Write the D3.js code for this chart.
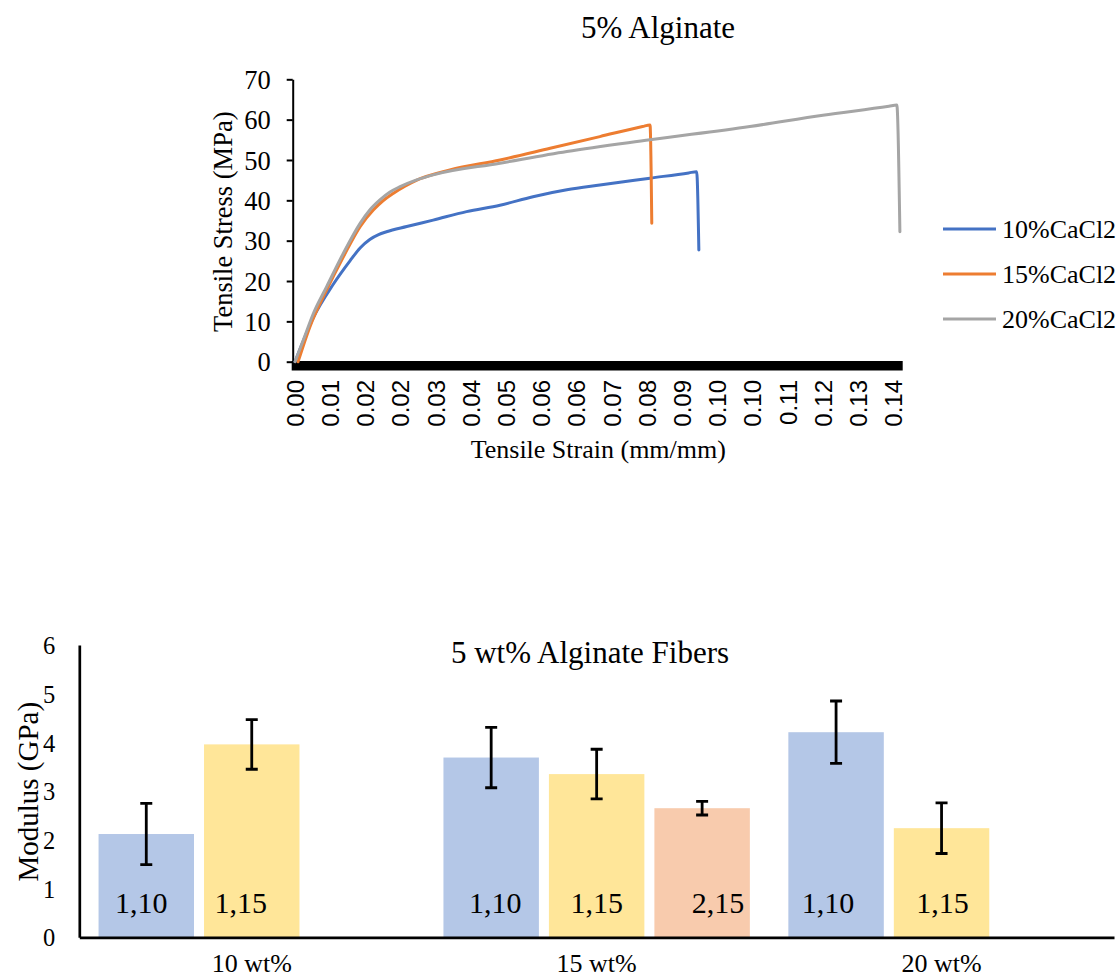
<!DOCTYPE html>
<html>
<head>
<meta charset="utf-8">
<script src="https://cdn.jsdelivr.net/npm/d3@7/dist/d3.min.js"></script>
<style>
body { margin: 0; background: #fff; }
svg { display: block; }
text { font-family: "Liberation Serif", "Times New Roman", serif; fill: #000; }
.xlab text { font-family: "Liberation Sans", Arial, sans-serif; }
</style>
</head>
<body>
<svg width="1119" height="980"></svg>
<script>
// ---- top chart data: [strain (mm/mm), stress (MPa)]
const curve10 = [[0, 0], [0.0042, 11], [0.0087, 19.2], [0.0125, 25], [0.0148, 28.2], [0.0170, 30.3],
  [0.0190, 31.5], [0.0208, 32.2], [0.0254, 33.5], [0.0314, 35.1], [0.0390, 37.2], [0.0466, 38.8],
  [0.0541, 40.9], [0.0618, 42.6], [0.0693, 43.8], [0.0807, 45.5], [0.0895, 46.8], [0.0913, 47.1],
  [0.0918, 27.7]]
const curve15 = [[0.0007, 0], [0.0034, 8.7], [0.0072, 17.8], [0.0110, 26], [0.0148, 33.5], [0.0178, 37.6],
  [0.0200, 39.9], [0.0223, 41.7], [0.0250, 43.5], [0.0277, 45], [0.0352, 47.5], [0.0466, 50],
  [0.0580, 52.9], [0.0693, 55.8], [0.0790, 58.3], [0.0807, 58.7], [0.0811, 34.3]]
const curve20 = [[0, 0], [0.0019, 5.4], [0.0042, 12], [0.0072, 18.6], [0.0110, 26.9], [0.0148, 34.3],
  [0.0170, 37.6], [0.0193, 40.1], [0.0215, 42], [0.0239, 43.4], [0.0275, 45], [0.0314, 46.3],
  [0.0466, 49.2], [0.0618, 52.1], [0.0807, 55], [0.1034, 58.3], [0.1200, 61.1], [0.1350, 63.3],
  [0.1368, 63.6], [0.1375, 32.2]]
const curveNames = ["10%CaCl2", "15%CaCl2", "20%CaCl2"]
const stressTicks = [0, 10, 20, 30, 40, 50, 60, 70]
const strainTicks = [0, 0.008, 0.016, 0.024, 0.032, 0.040, 0.048, 0.056, 0.064, 0.072, 0.080,
  0.088, 0.096, 0.104, 0.112, 0.120, 0.128, 0.136]
const strainLabels = ["0.00", "0.01", "0.02", "0.02", "0.03", "0.04", "0.05", "0.06", "0.06", "0.07",
  "0.08", "0.09", "0.10", "0.10", "0.11", "0.12", "0.13", "0.14"]

// ---- bottom chart data: modulus (GPa) and error
const categories = ["10 wt%", "15 wt%", "20 wt%"]
const seriesNames = ["1,10", "1,15", "2,15"]
const mod110 = [2.12, 3.69, 4.21]
const err110 = [0.63, 0.62, 0.64]
const mod115 = [3.96, 3.35, 2.24]
const err115 = [0.51, 0.51, 0.52]
const mod215 = [null, 2.65, null]
const err215 = [null, 0.14, null]
const modTicks = [0, 1, 2, 3, 4, 5, 6]

// layout / style
const lineColors = ["#4472C4", "#ED7D31", "#A5A5A5"]
const barColors = ["#B4C7E7", "#FFE699", "#F8CBAD"]
const labelNudge = [[-5, 4, -8], [-11, 0, 1], [0, 16, 0]]

let svg = d3.select("svg")

// ================= top chart =================
let x = d3.scaleLinear().domain([0, 0.136]).range([295, 893.3])
let y = d3.scaleLinear().domain([0, 70]).range([361.7, 79.3])

svg.append("text")
  .attr("x", 658).attr("y", 38)
  .attr("text-anchor", "middle")
  .style("font-size", "31px")
  .text("5% Alginate")

let yAxis = svg.append("g")
  .attr("transform", "translate(292.7,0)")
  .call(d3.axisLeft(y).tickValues(stressTicks).tickSize(6).tickSizeOuter(0).tickPadding(16))
yAxis.selectAll("path, line").attr("stroke", "#000").attr("stroke-width", 2)
yAxis.selectAll("text").style("font-size", "26.5px").attr("dy", "0.35em")

// dense category tick marks show up as a thick black band
svg.append("rect")
  .attr("x", 291.7).attr("y", 361)
  .attr("width", 611).attr("height", 9.5)
  .attr("fill", "#000")

let xAxis = svg.append("g")
  .attr("class", "xlab")
  .attr("transform", "translate(0,361.7)")
  .call(d3.axisBottom(x).tickValues(strainTicks).tickFormat((d, i) => strainLabels[i]).tickSize(0))
xAxis.select(".domain").remove()
xAxis.selectAll("text")
  .attr("transform", "rotate(-90)")
  .attr("x", -18.3).attr("y", 0)
  .attr("dy", "0.35em")
  .style("text-anchor", "end")
  .style("font-size", "24px")

let line = d3.line().x(d => x(d[0])).y(d => y(d[1])).curve(d3.curveMonotoneX)
let curves = [curve10, curve15, curve20]
curves.forEach((c, i) => {
  svg.append("path")
    .datum(c)
    .attr("d", line)
    .attr("fill", "none")
    .attr("stroke", lineColors[i])
    .attr("stroke-width", 3)
    .attr("stroke-linejoin", "round")
    .attr("stroke-linecap", "round")
})

svg.append("text")
  .attr("transform", "translate(231.7,221.7) rotate(-90)")
  .attr("text-anchor", "middle")
  .style("font-size", "26.5px")
  .text("Tensile Stress (MPa)")

svg.append("text")
  .attr("x", 598.3).attr("y", 458)
  .attr("text-anchor", "middle")
  .style("font-size", "26px")
  .text("Tensile Strain (mm/mm)")

let legend = svg.append("g").selectAll("g")
  .data(curveNames)
  .enter().append("g")
  .attr("transform", (d, i) => "translate(0," + (229 + i * 45) + ")")
legend.append("line")
  .attr("x1", 943).attr("x2", 996)
  .attr("stroke", (d, i) => lineColors[i])
  .attr("stroke-width", 3)
legend.append("text")
  .attr("x", 1002).attr("y", 9)
  .style("font-size", "26px")
  .text(d => d)

// ================= bottom chart =================
let x0 = d3.scaleBand().domain(categories).range([79.3, 1114]).padding(0)
let x1 = d3.scaleBand().domain(seriesNames).range([0, x0.bandwidth()])
  .paddingInner(0.095).paddingOuter(0.1825)
let yb = d3.scaleLinear().domain([0, 6]).range([937.3, 645])

svg.append("text")
  .attr("x", 590).attr("y", 663)
  .attr("text-anchor", "middle")
  .style("font-size", "31px")
  .text("5 wt% Alginate Fibers")

let barSeries = [
  {name: "1,10", values: mod110, errors: err110},
  {name: "1,15", values: mod115, errors: err115},
  {name: "2,15", values: mod215, errors: err215}
]

barSeries.forEach((s, si) => {
  let pts = categories.map((c, ci) => ({cat: c, v: s.values[ci], e: s.errors[ci], ci: ci}))
    .filter(d => d.v != null)
  let g = svg.append("g")
  g.selectAll("rect")
    .data(pts)
    .enter().append("rect")
    .attr("x", d => x0(d.cat) + x1(s.name))
    .attr("y", d => yb(d.v))
    .attr("width", x1.bandwidth())
    .attr("height", d => yb(0) - yb(d.v))
    .attr("fill", barColors[si])

  let cx = d => x0(d.cat) + x1(s.name) + x1.bandwidth() / 2
  g.selectAll(".err")
    .data(pts)
    .enter().append("path")
    .attr("class", "err")
    .attr("d", d => {
      let top = yb(d.v + d.e), bot = yb(d.v - d.e), c = cx(d)
      return "M" + c + "," + top + "V" + bot +
        "M" + (c - 6) + "," + top + "H" + (c + 6) +
        "M" + (c - 6) + "," + bot + "H" + (c + 6)
    })
    .attr("stroke", "#000")
    .attr("stroke-width", 2.8)
    .attr("fill", "none")

  g.selectAll(".lab")
    .data(pts)
    .enter().append("text")
    .attr("class", "lab")
    .attr("x", d => cx(d) + labelNudge[si][d.ci])
    .attr("y", 913)
    .attr("text-anchor", "middle")
    .style("font-size", "30px")
    .text(s.name)
})

let ybAxis = svg.append("g")
  .attr("transform", "translate(79.3,0)")
  .call(d3.axisLeft(yb).tickValues(modTicks).tickFormat(d3.format("d")).tickSize(0).tickSizeOuter(0).tickPadding(24))
ybAxis.select(".domain").attr("stroke", "#000").attr("stroke-width", 2.7)
ybAxis.selectAll("text").style("font-size", "24.5px").attr("dy", "0.35em")

let xbAxis = svg.append("g")
  .attr("transform", "translate(0,937.3)")
  .call(d3.axisBottom(x0).tickSize(0).tickSizeOuter(0))
xbAxis.select(".domain").attr("stroke", "#000").attr("stroke-width", 2.7)
xbAxis.selectAll("text").attr("y", 35).attr("dy", 0).style("font-size", "26px")

svg.append("text")
  .attr("transform", "translate(37.5,791.7) rotate(-90)")
  .attr("text-anchor", "middle")
  .style("font-size", "29px")
  .text("Modulus (GPa)")
</script>
</body>
</html>
